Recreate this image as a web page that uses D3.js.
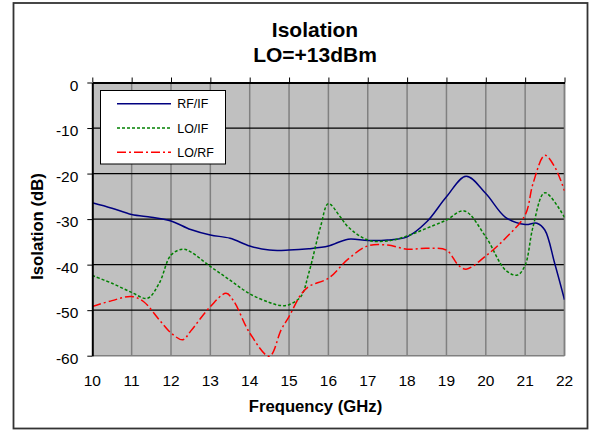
<!DOCTYPE html>
<html><head><meta charset="utf-8">
<script src="https://cdn.jsdelivr.net/npm/d3@7"></script>
<style>
body{margin:0;background:#fff;}
text{font-family:"Liberation Sans",Arial,sans-serif;}
</style></head>
<body><svg id="c" width="589" height="430"></svg>
<script>
const xTicks = [10,11,12,13,14,15,16,17,18,19,20,21,22];
const yTicks = [0,-10,-20,-30,-40,-50,-60];

const rfifFreq = [10,10.5,11,11.5,12,12.5,13,13.5,14,14.5,15,15.5,16,16.5,17,17.5,18,18.5,19,19.5,20,20.5,21,21.3,21.5,21.75,22];
const rfifVals = [-26.4,-27.6,-29.0,-29.6,-30.4,-32.3,-33.5,-34.2,-35.9,-36.8,-36.8,-36.5,-35.9,-34.4,-34.7,-34.6,-33.9,-30.6,-25.1,-20.6,-24.4,-29.6,-31.2,-30.9,-32.4,-39.7,-47.7];

const loifFreq = [10,10.5,11,11.4,11.7,12,12.3,12.5,13,13.5,14,14.5,14.8,15,15.3,15.5,15.8,16,16.3,16.5,17,17.5,18,18.5,19,19.45,20,20.5,20.8,21,21.2,21.5,22];
const loifVals = [-42.4,-44.1,-46.1,-47.4,-44.1,-37.9,-36.6,-37.2,-40.4,-43.4,-46.4,-48.3,-49.0,-48.8,-47.0,-41.9,-31.7,-26.6,-29.5,-31.7,-34.6,-34.8,-33.7,-32.0,-30.2,-28.2,-33.9,-41.2,-42.3,-40.1,-31.7,-24.2,-29.6];

const lorfFreq = [10,10.5,11,11.3,11.7,12,12.3,12.5,13,13.4,13.6,14,14.5,14.8,15,15.3,15.5,16,16.5,17,17.5,18,18.5,19,19.3,19.5,20,20.5,21,21.2,21.5,21.75,22];
const lorfVals = [-49.2,-47.9,-47.0,-48.1,-52.1,-55.0,-56.5,-54.6,-49.2,-46.3,-48.1,-55.0,-60.1,-54.3,-51.4,-46.6,-44.8,-43.0,-38.8,-35.9,-35.7,-36.6,-36.4,-36.8,-40.1,-41.0,-38.1,-34.2,-29.1,-22.2,-16.0,-18.5,-23.8];

const seriesNames = ["RF/IF","LO/IF","LO/RF"];
const seriesColors = ["#000080","#008000","#ff0000"];
const seriesDash = [null,"3,2","9,3,2,3"];

const svg = d3.select("#c");
svg.append("rect").attr("x",13.5).attr("y",3).attr("width",574).attr("height",425.5).attr("fill","#fff").attr("stroke","#333").attr("stroke-width",1.8);

const L=92.3,R=564.5,T=82.5,B=355.7;
const x = d3.scaleLinear().domain([10,22]).range([L,R]);
const y = d3.scaleLinear().domain([-60,0]).range([B,T]);

svg.append("rect").attr("x",L).attr("y",T).attr("width",R-L).attr("height",B-T).attr("fill","#c0c0c0");

svg.append("g").selectAll("line").data(xTicks.slice(1)).join("line")
  .attr("x1",d=>x(d)).attr("x2",d=>x(d)).attr("y1",T).attr("y2",B)
  .attr("stroke","#808080").attr("stroke-width",1.5);
svg.append("g").selectAll("line").data(yTicks.filter(d=>d!==0&&d!==-60)).join("line")
  .attr("x1",L).attr("x2",R).attr("y1",d=>y(d)).attr("y2",d=>y(d))
  .attr("stroke","#000").attr("stroke-width",1.2);
svg.append("line").attr("x1",L).attr("x2",R).attr("y1",B).attr("y2",B).attr("stroke","#808080").attr("stroke-width",1.5);
svg.append("line").attr("x1",R).attr("x2",R).attr("y1",T).attr("y2",B).attr("stroke","#808080").attr("stroke-width",1.5);

svg.append("clipPath").attr("id","pc").append("rect").attr("x",L).attr("y",T-2).attr("width",R-L).attr("height",B-T+4);
const data = [[rfifFreq,rfifVals],[loifFreq,loifVals],[lorfFreq,lorfVals]];
const line = d3.line().x(d=>x(d[0])).y(d=>y(d[1])).curve(d3.curveCatmullRom.alpha(0.5));
data.forEach((s,i)=>{
  const pts = s[0].map((f,j)=>[f,s[1][j]]);
  svg.append("path").attr("d",line(pts)).attr("fill","none")
    .attr("stroke",seriesColors[i]).attr("stroke-width",1.5)
    .attr("stroke-dasharray",seriesDash[i]).attr("clip-path","url(#pc)");
});

const xAxis = d3.axisTop(x).tickValues(xTicks).tickSize(5).tickSizeOuter(0).tickFormat("");
const gx = svg.append("g").attr("transform",`translate(0,${T})`).call(xAxis);
gx.select(".domain").attr("stroke","#000").attr("stroke-width",2);
gx.selectAll(".tick line").attr("stroke","#000").attr("stroke-width",1);
const yAxis = d3.axisLeft(y).tickValues(yTicks).tickSize(5).tickSizeOuter(0).tickFormat(d=>d);
const gy = svg.append("g").attr("transform",`translate(${L},0)`).call(yAxis);
gy.select(".domain").attr("stroke","#000").attr("stroke-width",2);
gy.selectAll(".tick line").attr("stroke","#000").attr("stroke-width",1);
gy.selectAll(".tick text").attr("font-size",15.5).attr("font-family","Liberation Sans, Arial, sans-serif").attr("fill","#000").attr("x",-14).attr("dy","0.5em");

svg.append("g").selectAll("text").data(xTicks).join("text")
  .attr("x",d=>x(d)).attr("y",386).attr("text-anchor","middle")
  .attr("font-size",15.5).attr("fill","#000").text(d=>d);

svg.append("text").attr("x",315).attr("y",36.7).attr("text-anchor","middle").attr("font-size",21).attr("font-weight","bold").text("Isolation");
svg.append("text").attr("x",315).attr("y",61.7).attr("text-anchor","middle").attr("font-size",21).attr("font-weight","bold").text("LO=+13dBm");
svg.append("text").attr("x",315.5).attr("y",411.7).attr("text-anchor","middle").attr("font-size",16.7).attr("font-weight","bold").text("Frequency (GHz)");
svg.append("text").attr("transform","translate(42.7,226.5) rotate(-90)").attr("text-anchor","middle").attr("font-size",16.7).attr("font-weight","bold").text("Isolation (dB)");

const lg = svg.append("g");
lg.append("rect").attr("x",100.5).attr("y",90.5).attr("width",125).attr("height",73.5).attr("fill","#fff").attr("stroke","#000").attr("stroke-width",1);
seriesNames.forEach((n,i)=>{
  const yy = 103.7 + i*24.3;
  lg.append("line").attr("x1",117).attr("x2",171).attr("y1",yy).attr("y2",yy)
    .attr("stroke",seriesColors[i]).attr("stroke-width",1.5).attr("stroke-dasharray",seriesDash[i]);
  lg.append("text").attr("x",177.3).attr("y",yy+4.5).attr("font-size",12.4).text(n);
});
</script></body></html>
